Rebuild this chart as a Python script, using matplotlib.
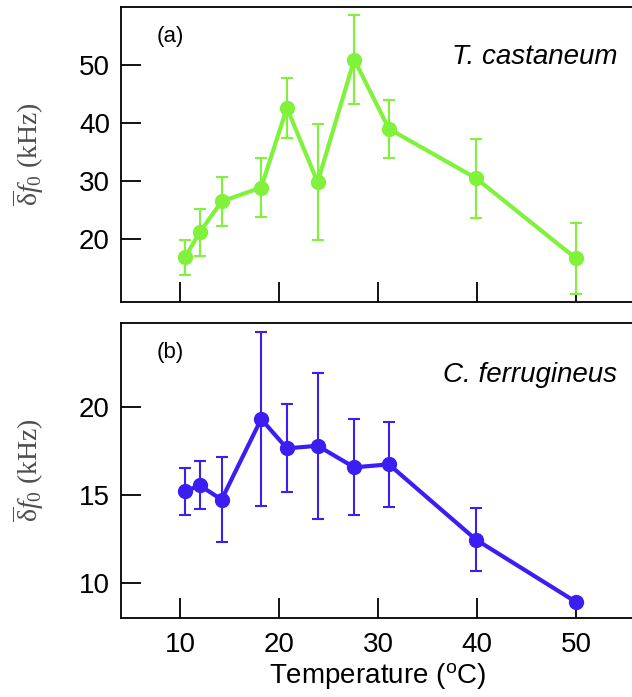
import matplotlib.pyplot as plt

plt.rcParams['font.family'] = ['Liberation Sans', 'DejaVu Sans']
plt.rcParams['mathtext.fontset'] = 'custom'
plt.rcParams['mathtext.rm'] = 'Liberation Serif'
plt.rcParams['mathtext.it'] = 'Liberation Serif:italic'
plt.rcParams['mathtext.sf'] = 'Liberation Sans'

# Temperature (C)
temps = [10.5, 12.0, 14.2, 18.2, 20.8, 23.9, 27.6, 31.1, 39.9, 50.0]

# (a) T. castaneum
tc_mean = [16.9, 21.2, 26.5, 28.9, 42.6, 29.8, 50.9, 39.0, 30.5, 16.7]
tc_err = [3.0, 4.0, 4.2, 5.0, 5.2, 10.0, 7.6, 5.0, 6.8, 6.1]

# (b) C. ferrugineus
cf_mean = [15.22, 15.56, 14.75, 19.34, 17.67, 17.82, 16.59, 16.76, 12.47, 8.92]
cf_err = [1.35, 1.37, 2.43, 4.95, 2.5, 4.15, 2.73, 2.42, 1.8, 0.2]

green = '#80f23c'
blue = '#3a1ef2'

W, H = 632, 697
fig = plt.figure(figsize=(W / 100, H / 100), dpi=100)

def px_axes(left, top, right, bottom):
    return fig.add_axes([left / W, 1 - bottom / H, (right - left) / W, (bottom - top) / H])

ax1 = px_axes(121, 6.7, 634, 302.3)
ax2 = px_axes(121, 322.7, 634, 618.3)

ylabel = r'$\overline{\mathrm{δ}}\mathit{f}_{\mathit{0}}$' + ' (kHz)'

panels = [
    (ax1, tc_mean, tc_err, green, (9.16, 60.0), [20, 30, 40, 50], '(a)', 'T. castaneum', 0.83),
    (ax2, cf_mean, cf_err, blue, (7.99, 24.83), [10, 15, 20], '(b)', 'C. ferrugineus', 0.823),
]

for ax, m, e, c, ylim, yt, tag, name, ny in panels:
    ax.errorbar(temps, m, yerr=e, color=c, lw=3, marker='o', ms=10,
                elinewidth=1.5, capsize=4, capthick=1.5, zorder=3)
    ax.set_xlim(4.04, 55.86)
    ax.set_ylim(*ylim)
    ax.set_yticks(yt)
    ax.set_xticks([10, 20, 30, 40, 50])
    ax.tick_params(direction='in', length=14.5, width=1.3, labelsize=20)
    ax.tick_params(axis='y', pad=8)
    ax.tick_params(axis='x', pad=10)
    for s in ax.spines.values():
        s.set_linewidth(1.3)
    ax.spines['right'].set_visible(False)
    ax.set_ylabel(ylabel, fontsize=20, color='#4d4d4d', family='Liberation Serif', labelpad=24)
    ax.text(0.07, 0.9, tag, transform=ax.transAxes, fontsize=16, va='center', ha='left')
    ax.text(0.967, ny, name, transform=ax.transAxes, fontsize=20, style='italic',
            va='center', ha='right')

ax1.tick_params(axis='x', labelbottom=False)
ax2.set_xlabel(r'Temperature ($^{\mathsf{o}}$C)', fontsize=20, labelpad=2)

fig.savefig('out.png', dpi=100)
